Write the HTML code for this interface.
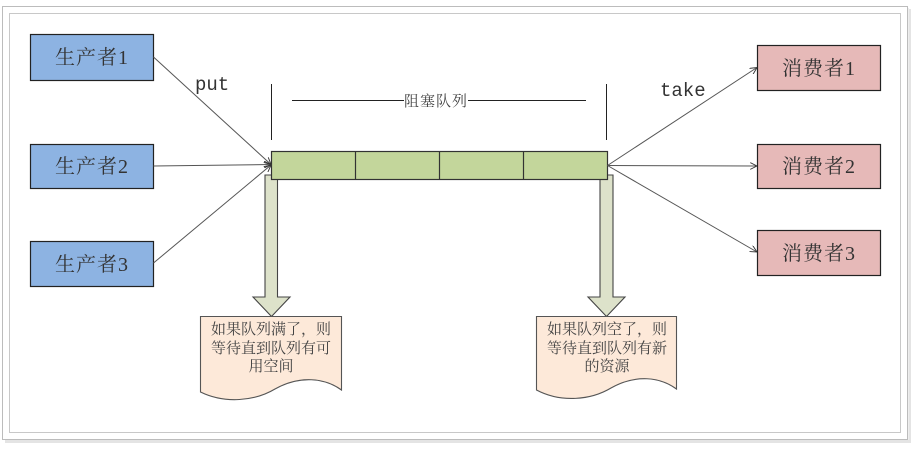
<!DOCTYPE html>
<html><head><meta charset="utf-8"><style>
html,body{margin:0;padding:0;background:#fff;}
svg{display:block;}
</style></head><body>
<svg width="915" height="449" viewBox="0 0 915 449" xmlns="http://www.w3.org/2000/svg">
<defs>
<marker id="ah" viewBox="0 0 10 10" refX="10" refY="5" markerWidth="7" markerHeight="7" orient="auto" markerUnits="userSpaceOnUse">
<path d="M0,0 L10,5 L0,10" fill="none" stroke="#333" stroke-width="1.3"/>
</marker>
</defs>
<!-- frame shadow -->
<rect x="5" y="9" width="906" height="434" fill="#e4e4e4"/>
<rect x="4" y="8" width="905" height="432" fill="#eeeeee"/>
<rect x="2.5" y="6.5" width="905" height="433" fill="#fff" stroke="#bcbcbc" stroke-width="1"/>
<rect x="9.5" y="13.5" width="891" height="419" fill="#fff" stroke="#c8c8c8" stroke-width="1"/>

<!-- producers -->
<g stroke="#222" stroke-width="1.2" fill="#8db3e2">
<rect x="30.5" y="34.5" width="123" height="46"/>
<rect x="30.5" y="144.5" width="123" height="44"/>
<rect x="30.5" y="241.5" width="123" height="45"/>
</g>
<g font-family="Liberation Serif, Noto Serif CJK SC, serif" font-size="20" fill="#333" text-anchor="middle" letter-spacing="1">
<text x="92" y="64">生产者1</text>
<text x="92" y="173">生产者2</text>
<text x="92" y="271">生产者3</text>
</g>

<!-- consumers -->
<g stroke="#222" stroke-width="1.2" fill="#e6b9b8">
<rect x="757.5" y="45.5" width="123" height="45"/>
<rect x="757.5" y="144.5" width="123" height="44"/>
<rect x="757.5" y="230.5" width="123" height="45"/>
</g>
<g font-family="Liberation Serif, Noto Serif CJK SC, serif" font-size="20" fill="#333" text-anchor="middle" letter-spacing="1">
<text x="819" y="75">消费者1</text>
<text x="819" y="173">消费者2</text>
<text x="819" y="260">消费者3</text>
</g>

<!-- down arrows -->
<polygon points="265,175 265,297 253,297 271.5,316.5 290,297 277.5,297 277.5,175" fill="#dde2ca" stroke="#444" stroke-width="1.1"/>
<polygon points="600,175 600,297 588,297 606.5,316.5 625,297 613,297 613,175" fill="#dde2ca" stroke="#444" stroke-width="1.1"/>

<!-- queue -->
<g stroke="#333" stroke-width="1.2" fill="#c3d69b">
<rect x="271.5" y="151.5" width="336" height="28"/>
<line x1="355.5" y1="151.5" x2="355.5" y2="179.5"/>
<line x1="439.5" y1="151.5" x2="439.5" y2="179.5"/>
<line x1="523.5" y1="151.5" x2="523.5" y2="179.5"/>
</g>

<!-- connectors -->
<g stroke="#555" stroke-width="1" fill="none">
<line x1="153.5" y1="57" x2="271" y2="164.5" marker-end="url(#ah)"/>
<line x1="153.5" y1="166" x2="271" y2="164.5" marker-end="url(#ah)"/>
<line x1="153.5" y1="263" x2="271" y2="165" marker-end="url(#ah)"/>
<line x1="607.5" y1="165.5" x2="757" y2="67.5" marker-end="url(#ah)"/>
<line x1="607.5" y1="165.5" x2="757" y2="166" marker-end="url(#ah)"/>
<line x1="607.5" y1="165.5" x2="757" y2="252" marker-end="url(#ah)"/>
</g>

<!-- bracket label -->
<g stroke="#222" stroke-width="1">
<line x1="271.5" y1="84" x2="271.5" y2="140"/>
<line x1="606.5" y1="84" x2="606.5" y2="140"/>
<line x1="292" y1="100.5" x2="404" y2="100.5"/>
<line x1="468" y1="100.5" x2="586" y2="100.5"/>
</g>
<text x="436" y="106" font-family="Liberation Serif, Noto Serif CJK SC, serif" font-size="15" fill="#444" text-anchor="middle" letter-spacing="1">阻塞队列</text>

<!-- put / take -->
<g font-family="Liberation Mono, monospace" font-size="19" fill="#333">
<text x="195" y="90">put</text>
<text x="660" y="96">take</text>
</g>

<!-- callouts -->
<path d="M200.5,316.5 H341.5 V390 C325,378 300,375 275,389 C255,401 225,404 200.5,392 Z" fill="#fde9d9" stroke="#555" stroke-width="1.1"/>
<path d="M536.5,316.5 H676.5 V389 C660,377 636,374 611,388 C591,400 561,403 536.5,390 Z" fill="#fde9d9" stroke="#555" stroke-width="1.1"/>
<g font-family="Liberation Serif, Noto Serif CJK SC, serif" font-size="15" fill="#444" text-anchor="middle">
<text x="271" y="334">如果队列满了，则</text>
<text x="271" y="353">等待直到队列有可</text>
<text x="271" y="371">用空间</text>
<text x="607" y="334">如果队列空了，则</text>
<text x="607" y="353">等待直到队列有新</text>
<text x="607" y="371">的资源</text>
</g>
</svg>
</body></html>
